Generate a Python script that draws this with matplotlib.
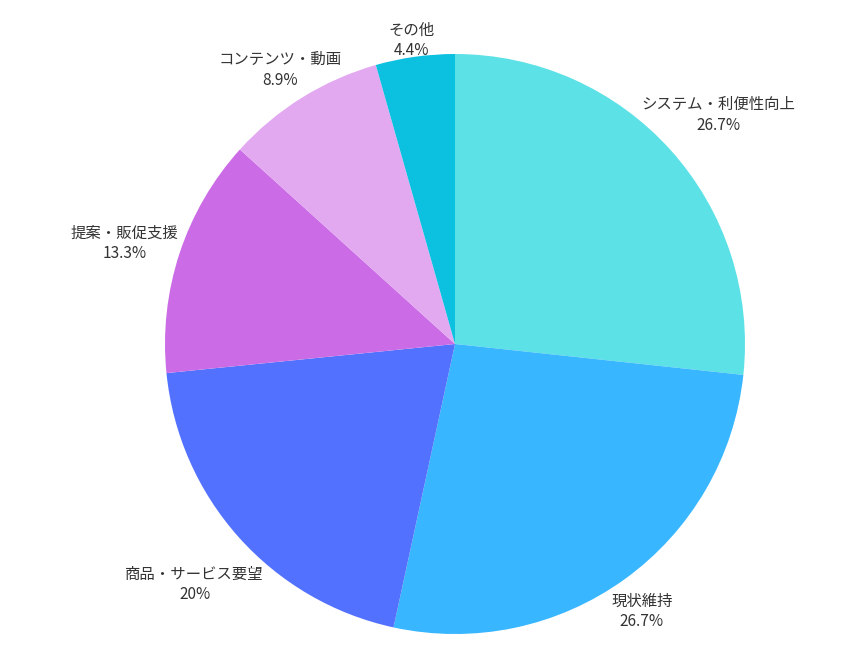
import matplotlib
matplotlib.use("Agg")
import matplotlib.pyplot as plt
import numpy as np

plt.rcParams['font.family'] = ['Noto Sans CJK JP', 'DejaVu Sans']

categories = ["システム・利便性向上", "現状維持", "商品・サービス要望", "提案・販促支援", "コンテンツ・動画", "その他"]
values = [26.7, 26.7, 20, 13.3, 8.9, 4.4]
colors = ["#5CE1E6", "#38B6FF", "#5271FF", "#CB6CE6", "#E2A9F1", "#0CC0DF"]

fig = plt.figure(figsize=(8.5, 6.5), dpi=100)
ax = fig.add_axes([0, 0, 1, 1])

cx, cy, R = 455, 650 - 344, 290
wedges, _ = ax.pie(values, colors=colors, startangle=90, counterclock=False,
                   center=(cx, cy), radius=R, frame=True,
                   wedgeprops=dict(linewidth=0))
ax.set_xlim(0, 850)
ax.set_ylim(0, 650)
ax.set_aspect('equal')
ax.axis('off')

renderer = fig.canvas.get_renderer()
gap = 6
y_shift = -8
for w, name, v in zip(wedges, categories, values):
    ang = np.deg2rad((w.theta1 + w.theta2) / 2)
    t = ax.text(0, 0, f"{name}\n{v:g}%", ha='center', va='center',
                fontsize=11.1, color='#333333', linespacing=1.25)
    bb = t.get_window_extent(renderer=renderer)
    hw, hh = bb.width / 2, bb.height / 2
    d = R + gap + np.hypot(hw * np.cos(ang), hh * np.sin(ang))
    t.set_position((cx + d * np.cos(ang), cy + d * np.sin(ang) + y_shift))

fig.savefig("out.png", dpi=100)
